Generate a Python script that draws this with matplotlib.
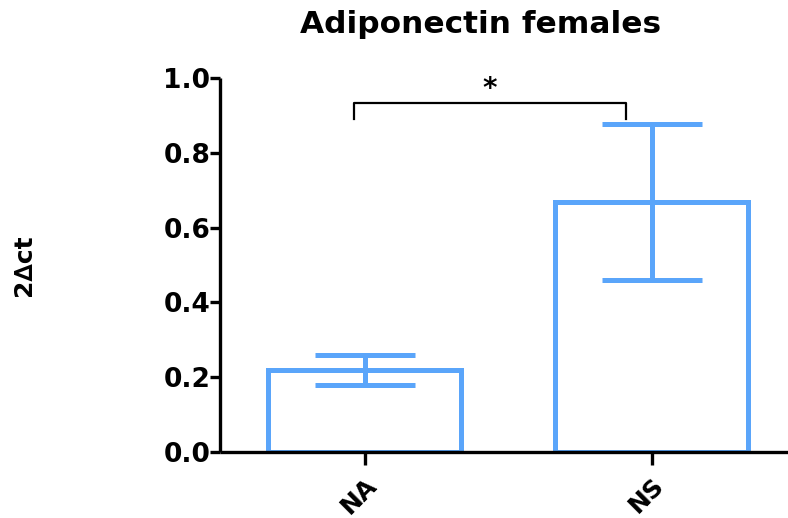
import matplotlib
matplotlib.use("Agg")
import matplotlib.pyplot as plt

categories = ["NA", "NS"]
means = [0.219, 0.668]
err_low = [0.179, 0.460]
err_high = [0.259, 0.877]
y_ticks = [0.0, 0.2, 0.4, 0.6, 0.8, 1.0]
sig_label = "*"
sig_y = 0.933
sig_drop = 0.043

blue = "#5aa5fa"
plt.rcParams["font.family"] = ["DejaVu Sans"]
plt.rcParams["font.weight"] = "bold"

fig = plt.figure(figsize=(7.88, 5.18), dpi=100)
ax = fig.add_axes([0.279, 0.1274, 0.721, 0.722])

x = list(range(len(categories)))
width = 0.672
ax.bar(x, means, width=width, facecolor="white", edgecolor=blue,
       linewidth=3.6, zorder=2)
yerr = [[m - lo for m, lo in zip(means, err_low)],
        [hi - m for m, hi in zip(means, err_high)]]
eb = ax.errorbar(x, means, yerr=yerr, fmt="none", ecolor=blue, elinewidth=3.6,
                 capsize=36, capthick=3.6, zorder=3)
for coll in eb.lines[2]:
    coll.set_capstyle("round")

# significance bracket
x0, x1 = -0.038, 0.91
ax.plot([x0, x0, x1, x1], [sig_y - sig_drop, sig_y, sig_y, sig_y - sig_drop],
        color="black", linewidth=1.6, clip_on=False, zorder=4)
ax.text((x0 + x1) / 2, sig_y + 0.0, sig_label, ha="center", va="bottom",
        fontsize=20, fontweight="bold")

ax.set_xlim(-0.505, 1.474)
ax.set_ylim(0, 1.0)
ax.set_yticks(y_ticks)
ax.set_yticklabels([f"{t:.1f}" for t in y_ticks])
ax.set_xticks(x)
ax.set_xticklabels(categories, rotation=45, ha="right", rotation_mode="anchor")

for s in ["top", "right"]:
    ax.spines[s].set_visible(False)
for s in ["left", "bottom"]:
    ax.spines[s].set_linewidth(2.4)
    ax.spines[s].set_capstyle("butt")

ax.tick_params(axis="y", length=7, width=2.4, labelsize=19, pad=0)
ax.tick_params(axis="x", length=9, width=2.4, labelsize=18, pad=6)
for lab in ax.get_xticklabels() + ax.get_yticklabels():
    lab.set_fontweight("bold")

fig.text(0.610, 0.952, "Adiponectin females", ha="center", va="center",
         fontsize=22.5, fontweight="bold")
fig.text(0.03, 0.488, "2∆ct", rotation=90, ha="center", va="center",
         fontsize=18, fontweight="bold")

fig.savefig("out.png", dpi=100)
